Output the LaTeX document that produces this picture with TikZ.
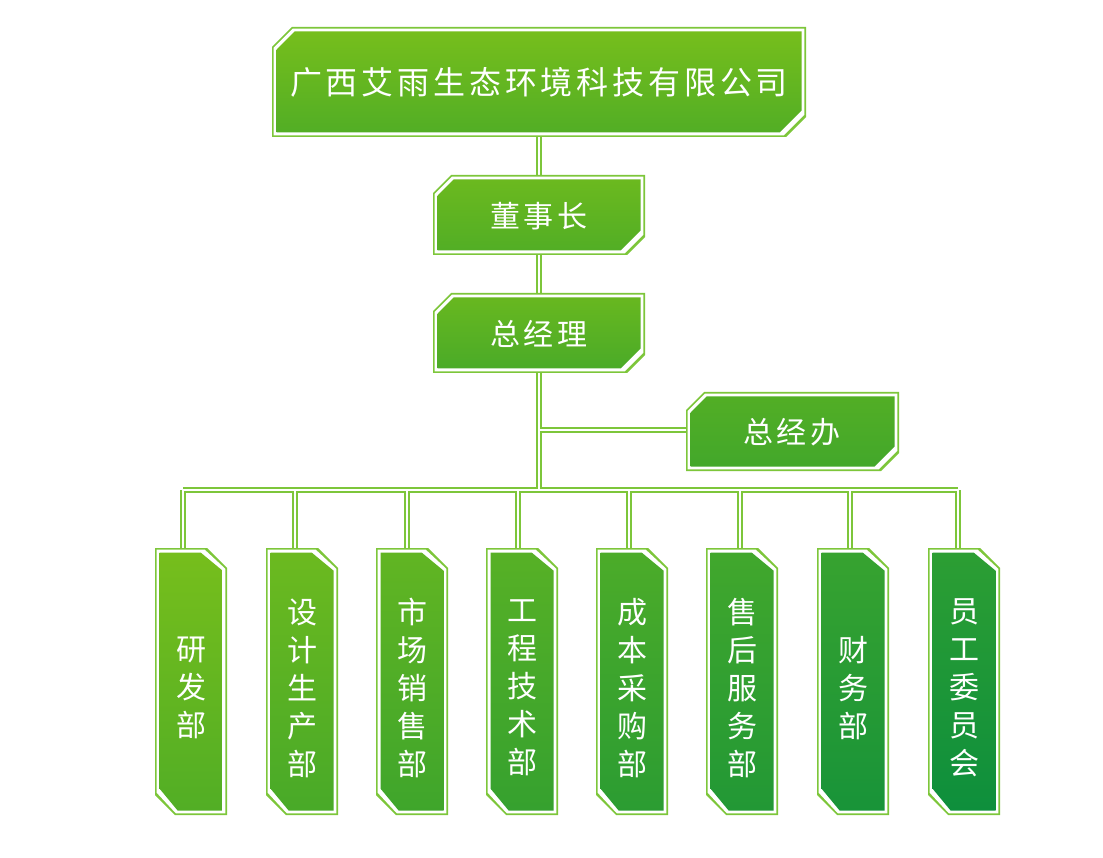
\documentclass[tikz,border=0pt]{standalone}
\usepackage{fontspec}
\newfontfamily\cjk[LetterSpace=12]{Noto Sans CJK SC}
\definecolor{lg}{HTML}{7DC63A}
\definecolor{Aa}{HTML}{76BE1C}
\definecolor{Ab}{HTML}{52AE25}
\definecolor{Ba}{HTML}{2C9E33}
\definecolor{Bb}{HTML}{0E8F3C}
\newcommand\shapeH[5]{(#1+#5,#2)--(#3,#2)--(#3,#4-#5)--(#3-#5,#4)--(#1,#4)--(#1,#2+#5)--cycle}
\newcommand\shapeV[5]{(#1,#2)--(#3-#5,#2)--(#3,#2+#5)--(#3,#4)--(#1+#5,#4)--(#1,#4-#5)--cycle}
\newcommand\boxH[7]{%
 \fill[lg] \shapeH{#1}{#2}{#3}{#4}{#5};
 \fill[white] \shapeH{#1+1.6}{#2+1.6}{#3-1.6}{#4-1.6}{#5-0.7};
 \shade[top color=#6,bottom color=#7] \shapeH{#1+4.5}{#2+4.5}{#3-4.5}{#4-4.5}{#5-1.9};}
\newcommand\boxV[7]{%
 \fill[lg] \shapeV{#1}{#2}{#3}{#4}{#5};
 \fill[white] \shapeV{#1+1.6}{#2+1.6}{#3-1.6}{#4-1.6}{#5-0.7};
 \shade[top color=#6,bottom color=#7] \shapeV{#1+4.5}{#2+4.5}{#3-4.5}{#4-4.5}{#5-1.9};}
\tikzset{lab/.style={text=white,font=\cjk\fontsize{30}{38}\selectfont,inner sep=0pt,align=center},
 conn/.style={draw=lg,line width=1.3pt,double=white,double distance=2.6pt}}
\begin{document}
\begin{tikzpicture}[x=1pt,y=-1pt]
\useasboundingbox[fill=white] (0,0) rectangle (1103,858);
% connectors
\coordinate (top) at (539,130);
\coordinate (j1) at (539,430);
\coordinate (j2) at (539,490);
\coordinate (zjb) at (690,430);
\coordinate (bl) at (183,490);
\coordinate (br) at (958,490);
\draw[conn] (top) -- (j2) (j1) -- (zjb) (bl) -- (br)
 \foreach \x in {183,295,407,518,629,740,850,958} {(\x,490) -- (\x,552)};
% boxes
\boxH{272}{27}{806}{137}{20}{Aa}{Ab}
\node[lab,font=\cjk\fontsize{32}{38}\selectfont] (company) at (539,82) {广西艾雨生态环境科技有限公司};
\boxH{433}{175}{645}{255}{18}{Aa!70!Ab}{Ab}
\node[lab] (dsz) at (539,216) {董事长};
\boxH{433}{293}{645}{373}{18}{Aa!60!Ab}{Ab!80!Ba}
\node[lab] (zjl) at (539,334) {总经理};
\boxH{686}{392}{899}{471}{18}{Ab}{Ab!60!Ba}
\node[lab] (zjbn) at (792,432) {总经办};
\foreach \c/\t [count=\i from 0] in {191/{研\\发\\部},302/{设\\计\\生\\产\\部},412/{市\\场\\销\\售\\部},522/{工\\程\\技\\术\\部},632/{成\\本\\采\\购\\部},742/{售\\后\\服\\务\\部},853/{财\\务\\部},964/{员\\工\\委\\员\\会}}{
 \pgfmathtruncatemacro\p{100*\i/7}
 \boxV{\c-36}{548}{\c+36}{815}{20}{Ba!\p!Aa}{Bb!\p!Ab}
 \node[lab] (d\i) at (\c,688) {\t};
}
\end{tikzpicture}
\end{document}
